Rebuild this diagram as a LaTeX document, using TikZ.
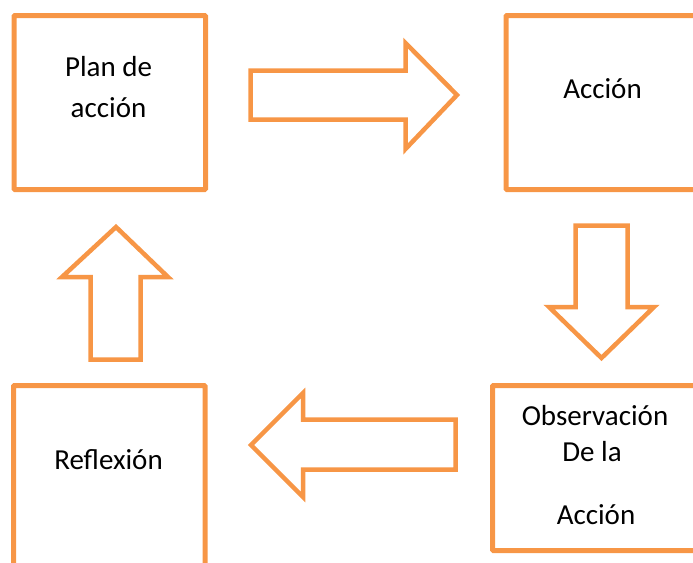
\documentclass[tikz,border=0pt]{standalone}
\usepackage{fontspec}
\setmainfont{Carlito}
\definecolor{orng}{HTML}{F79646}
\begin{document}
\begin{tikzpicture}[x=1pt,y=-1pt,
  box/.style={draw=orng,line width=5pt,rounded corners=1pt,anchor=north west,inner sep=0pt,outer sep=0pt},
  blk/.style={draw=orng,line width=4.5pt,fill=white,line join=miter},
  lbl/.style={font=\fontsize{29}{35}\selectfont,anchor=base,inner sep=0pt}]
\useasboundingbox (0,0) rectangle (693,562);
\clip (0,0) rectangle (693,562);
% boxes
\node[box,minimum width=191.5pt,minimum height=174pt] (plan) at (14,15.5) {};
\node[box,minimum width=194pt,minimum height=174pt] (accion) at (506,15.5) {};
\node[box,minimum width=205pt,minimum height=165pt] (obs) at (492.5,385.5) {};
\node[box,minimum width=191.5pt,minimum height=190pt] (refl) at (13.5,385.5) {};
% labels
\node[lbl] (t1) at (108.5,76) {Plan de};
\node[lbl] (t2) at (108.5,117) {acción};
\node[lbl] (t3) at (602.5,98) {Acción};
\node[lbl] (t4) at (595,425) {Observación};
\node[lbl] (t5) at (592,461) {De la};
\node[lbl] (t6) at (596,524) {Acción};
\node[lbl] (t7) at (108.5,469) {Reflexión};
% block arrows
\coordinate (r1) at (250.5,70.5);
\draw[blk] (r1) -- (405.5,70.5) -- (405.5,43) -- (457,95) -- (405.5,149) -- (405.5,119.5) -- (250.5,119.5) -- cycle;
\coordinate (d1) at (575.5,225.5);
\draw[blk] (d1) -- (627.5,225.5) -- (627.5,307) -- (654,307) -- (601.5,358) -- (549,307) -- (575.5,307) -- cycle;
\coordinate (l1) at (455.5,419.5);
\draw[blk] (l1) -- (303,419.5) -- (303,393) -- (251,445) -- (303,497) -- (303,469.5) -- (455.5,469.5) -- cycle;
\coordinate (u1) at (90.5,359.5);
\draw[blk] (u1) -- (90.5,277) -- (62,277) -- (116,227) -- (168,277) -- (140.5,277) -- (140.5,359.5) -- cycle;
\end{tikzpicture}
\end{document}
